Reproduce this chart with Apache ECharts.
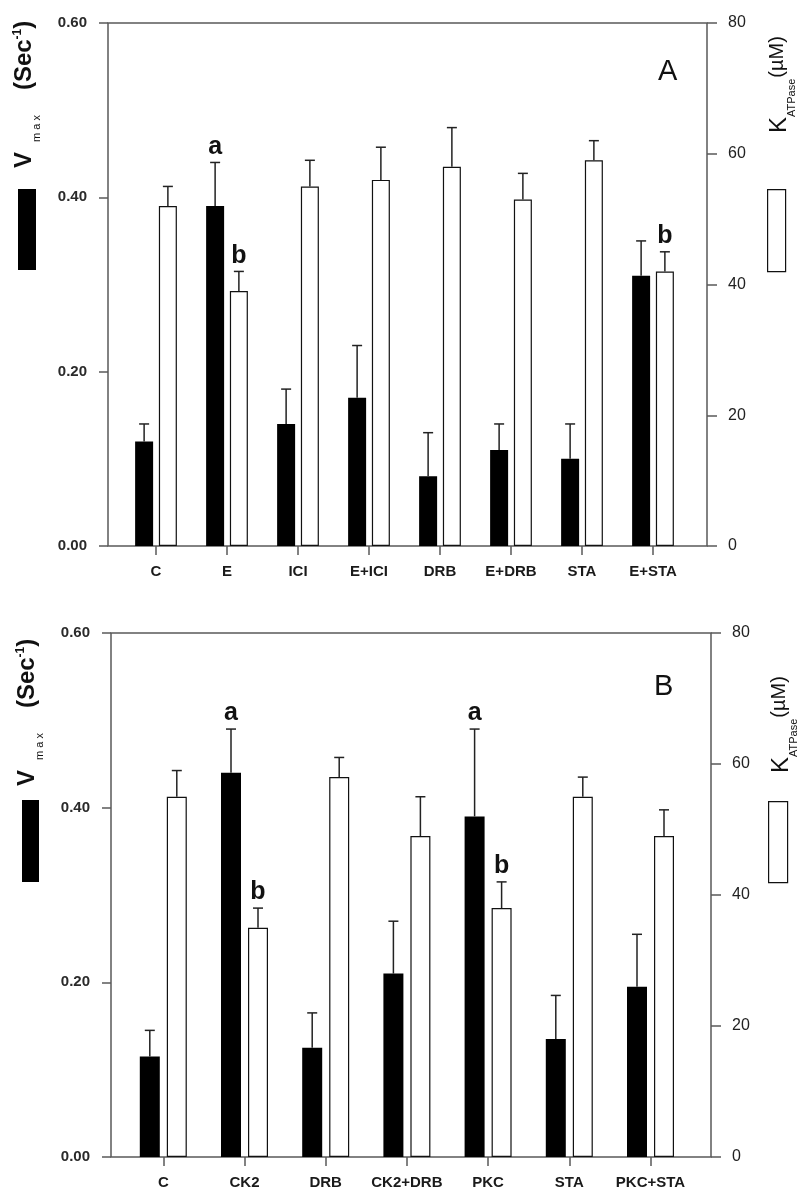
<!DOCTYPE html>
<html>
<head>
<meta charset="utf-8">
<script src="https://cdn.jsdelivr.net/npm/echarts@6/dist/echarts.min.js"></script>
<style>
  html, body { margin: 0; padding: 0; background: #fff; }
  #chart { width: 800px; height: 1199px; }
</style>
</head>
<body>
<div id="chart"></div>
<script>
// ---------------- data ----------------
const categoriesA = ['C', 'E', 'ICI', 'E+ICI', 'DRB', 'E+DRB', 'STA', 'E+STA'];
const vmaxA       = [0.12, 0.39, 0.14, 0.17, 0.08, 0.11, 0.10, 0.31];
const vmaxErrA    = [0.02, 0.05, 0.04, 0.06, 0.05, 0.03, 0.04, 0.04];
const katpA       = [52, 39, 55, 56, 58, 53, 59, 42];
const katpErrA    = [3, 3, 4, 5, 6, 4, 3, 3];
const vmaxMarkA   = ['', 'a', '', '', '', '', '', ''];
const katpMarkA   = ['', 'b', '', '', '', '', '', 'b'];

const categoriesB = ['C', 'CK2', 'DRB', 'CK2+DRB', 'PKC', 'STA', 'PKC+STA'];
const vmaxB       = [0.115, 0.44, 0.125, 0.21, 0.39, 0.135, 0.195];
const vmaxErrB    = [0.03, 0.05, 0.04, 0.06, 0.10, 0.05, 0.06];
const katpB       = [55, 35, 58, 49, 38, 55, 49];
const katpErrB    = [4, 3, 3, 6, 4, 3, 4];
const vmaxMarkB   = ['', 'a', '', '', 'a', '', ''];
const katpMarkB   = ['', 'b', '', '', 'b', '', ''];

const vmaxTicks = { min: 0, max: 0.6, interval: 0.2 };
const katpTicks = { min: 0, max: 80, interval: 20 };

// ---------------- styling ----------------
const SANS = "'Liberation Sans', Arial, Helvetica, sans-serif";
const NARROW = "'Liberation Sans Narrow', 'Arial Narrow', 'Liberation Sans', sans-serif";
const AXIS_COLOR = '#5a5a5a';

function errItem(offset, marks, capHalf) {
  return function (params, api) {
    const i = api.value(0), v = api.value(1), e = api.value(2);
    const base = api.coord([i, v]);
    const top = api.coord([i, v + e]);
    const x = base[0] + offset;
    const children = [
      { type: 'line', shape: { x1: x, y1: base[1], x2: x, y2: top[1] },
        style: { stroke: '#222', lineWidth: 1.5 } },
      { type: 'line', shape: { x1: x - capHalf, y1: top[1], x2: x + capHalf, y2: top[1] },
        style: { stroke: '#222', lineWidth: 1.5 } }
    ];
    const m = marks[params.dataIndex];
    if (m) {
      children.push({ type: 'text', style: {
        text: m, x: x, y: top[1] - 3,
        align: 'center', verticalAlign: 'bottom',
        textAlign: 'center', textVerticalAlign: 'bottom',
        font: 'bold 25px ' + SANS, fill: '#111'
      }});
    }
    return { type: 'group', children: children };
  };
}

function panel(p) {
  // p: grid indices / geometry
  const grids = [
    { left: p.frameLeft, top: p.top, width: p.frameWidth, height: p.height,
      show: true, borderColor: AXIS_COLOR, borderWidth: 1.5, backgroundColor: 'transparent' },
    { left: p.barsLeft, top: p.top, width: p.barsWidth, height: p.height, show: false }
  ];
  return grids;
}

const geomA = { frameLeft: 108, frameWidth: 599, barsLeft: 120.5, barsWidth: 568, top: 23, height: 523 };
const geomB = { frameLeft: 111, frameWidth: 600, barsLeft: 122.7, barsWidth: 568.4, top: 633, height: 524 };

const grid = [].concat(panel(geomA), panel(geomB)); // 0 A frame, 1 A bars, 2 B frame, 3 B bars

function catAxis(gridIndex, data) {
  return {
    type: 'category', gridIndex: gridIndex, data: data, boundaryGap: true,
    axisLine: { show: false },
    axisTick: { show: true, alignWithLabel: true, length: 9, lineStyle: { color: AXIS_COLOR, width: 1.5 } },
    axisLabel: { interval: 0, margin: 18, fontFamily: SANS, fontWeight: 'bold', fontSize: 15, color: '#1a1a1a' },
    splitLine: { show: false }
  };
}
function hiddenX(gridIndex) {
  return { type: 'value', gridIndex: gridIndex, show: false, min: 0, max: 1 };
}
function leftAxis(gridIndex, visible) {
  return {
    type: 'value', gridIndex: gridIndex, position: 'left', show: visible,
    min: vmaxTicks.min, max: vmaxTicks.max, interval: vmaxTicks.interval,
    axisLine: { show: false },
    axisTick: { show: true, inside: false, length: 9, lineStyle: { color: AXIS_COLOR, width: 1.5 } },
    axisLabel: { margin: 21, fontFamily: SANS, fontWeight: 'bold', fontSize: 15, color: '#2a2a2a',
                 formatter: v => v.toFixed(2) },
    splitLine: { show: false }
  };
}
function rightAxis(gridIndex, visible) {
  return {
    type: 'value', gridIndex: gridIndex, position: 'right', show: visible,
    min: katpTicks.min, max: katpTicks.max, interval: katpTicks.interval,
    axisLine: { show: false },
    axisTick: { show: true, inside: false, length: 10, lineStyle: { color: AXIS_COLOR, width: 1.5 } },
    axisLabel: { margin: 21, fontFamily: NARROW, fontSize: 16, color: '#222' },
    splitLine: { show: false }
  };
}

const xAxis = [catAxis(1, categoriesA), hiddenX(0), catAxis(3, categoriesB), hiddenX(2)];
const yAxis = [
  leftAxis(0, true), rightAxis(0, true), leftAxis(1, false), rightAxis(1, false),
  leftAxis(2, true), rightAxis(2, true), leftAxis(3, false), rightAxis(3, false)
];

const bwA = 18, gapA = 0.32, bwB = 20, gapB = 0.35;
const offA = bwA * (1 + gapA) / 2, offB = bwB * (1 + gapB) / 2;

const blackStyle = { color: '#000', borderColor: '#000', borderWidth: 0 };
const whiteStyle = { color: '#fff', borderColor: '#111', borderWidth: 1.2 };

const series = [
  { type: 'bar', name: 'Vmax A', xAxisIndex: 0, yAxisIndex: 2, data: vmaxA,
    barWidth: bwA, barGap: (gapA * 100) + '%', itemStyle: blackStyle },
  { type: 'bar', name: 'K A', xAxisIndex: 0, yAxisIndex: 3, data: katpA,
    barWidth: bwA, barGap: (gapA * 100) + '%', itemStyle: whiteStyle },
  { type: 'custom', xAxisIndex: 0, yAxisIndex: 2, z: 5,
    data: vmaxA.map((v, i) => [i, v, vmaxErrA[i]]), renderItem: errItem(-offA, vmaxMarkA, 5) },
  { type: 'custom', xAxisIndex: 0, yAxisIndex: 3, z: 5,
    data: katpA.map((v, i) => [i, v, katpErrA[i]]), renderItem: errItem(offA, katpMarkA, 5) },

  { type: 'bar', name: 'Vmax B', xAxisIndex: 2, yAxisIndex: 6, data: vmaxB,
    barWidth: bwB, barGap: (gapB * 100) + '%', itemStyle: blackStyle },
  { type: 'bar', name: 'K B', xAxisIndex: 2, yAxisIndex: 7, data: katpB,
    barWidth: bwB, barGap: (gapB * 100) + '%', itemStyle: whiteStyle },
  { type: 'custom', xAxisIndex: 2, yAxisIndex: 6, z: 5,
    data: vmaxB.map((v, i) => [i, v, vmaxErrB[i]]), renderItem: errItem(-offB, vmaxMarkB, 5) },
  { type: 'custom', xAxisIndex: 2, yAxisIndex: 7, z: 5,
    data: katpB.map((v, i) => [i, v, katpErrB[i]]), renderItem: errItem(offB, katpMarkB, 5) }
];

function swatch(name, left, top, w, h, style) {
  return {
    left: left, top: top, padding: 0, itemWidth: w, itemHeight: h, itemGap: 0,
    orient: 'vertical', selectedMode: false,
    data: [{ name: name, icon: 'rect', itemStyle: style }],
    formatter: () => '', textStyle: { fontSize: 1 }
  };
}
const legend = [
  swatch('Vmax A', 18, 189, 18, 81, blackStyle),
  swatch('K A', 767, 189, 18, 82, whiteStyle),
  swatch('Vmax B', 22, 800, 17, 82, blackStyle),
  swatch('K B', 768, 801, 19, 81, whiteStyle)
];

const leftRich = {
  v: { fontFamily: SANS, fontSize: 24, fontWeight: 'bold', lineHeight: 24, verticalAlign: 'top', fill: '#111', color: '#111' },
  s: { fontFamily: SANS, fontSize: 11, lineHeight: 11, verticalAlign: 'top', padding: [19, 25, 0, 10], fill: '#111', color: '#111' },
  u: { fontFamily: SANS, fontSize: 24, fontWeight: 'bold', lineHeight: 24, verticalAlign: 'top', fill: '#111', color: '#111' },
  p: { fontFamily: SANS, fontSize: 12, fontWeight: 'bold', lineHeight: 12, verticalAlign: 'top', fill: '#111', color: '#111' }
};
const rightRich = {
  k: { fontFamily: SANS, fontSize: 24, lineHeight: 24, verticalAlign: 'top', fill: '#111', color: '#111' },
  s: { fontFamily: SANS, fontSize: 11, lineHeight: 11, verticalAlign: 'top', padding: [19, 1, 0, 0], fill: '#111', color: '#111' },
  u: { fontFamily: SANS, fontSize: 20, lineHeight: 24, verticalAlign: 'top', fill: '#111', color: '#111' }
};
const leftTitle = '{v|V}{s|m a x}{u|(Sec}{p|-1}{u|)}';
const rightTitle = '{k|K}{s|ATPase}{u|(\u00b5M)}';

function vText(text, rich, x, y) {
  return {
    type: 'text', x: x, y: y, rotation: Math.PI / 2,
    style: { text: text, rich: rich, align: 'left', verticalAlign: 'middle',
             textAlign: 'left', textVerticalAlign: 'middle' }
  };
}

const option = {
  backgroundColor: '#fff',
  animation: false,
  title: [
    { text: 'A', left: 658, top: 57, padding: 0,
      textStyle: { fontFamily: SANS, fontSize: 29, fontWeight: 'normal', color: '#111' } },
    { text: 'B', left: 654, top: 672, padding: 0,
      textStyle: { fontFamily: SANS, fontSize: 29, fontWeight: 'normal', color: '#111' } }
  ],
  legend: legend,
  grid: grid,
  xAxis: xAxis,
  yAxis: yAxis,
  series: series,
  graphic: [
    vText(leftTitle, leftRich, 24, 168),
    vText(rightTitle, rightRich, 779, 133),
    vText(leftTitle, leftRich, 27, 786),
    vText(rightTitle, rightRich, 781, 773)
  ]
};

const chart = echarts.init(document.getElementById('chart'), null, { renderer: 'canvas' });
chart.setOption(option);
</script>
</body>
</html>
